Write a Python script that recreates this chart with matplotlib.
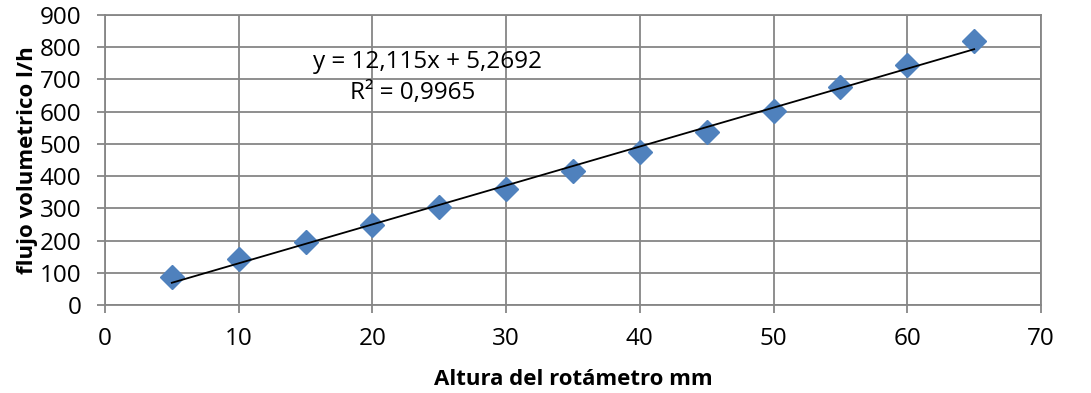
import numpy as np
import matplotlib.pyplot as plt

# Data
altura = [5, 10, 15, 20, 25, 30, 35, 40, 45, 50, 55, 60, 65]
flujo = [86, 142, 195, 248, 303, 360, 416, 474, 538, 602, 677, 745, 820]
xticks = [0, 10, 20, 30, 40, 50, 60, 70]
yticks = [0, 100, 200, 300, 400, 500, 600, 700, 800, 900]

plt.rcParams['font.family'] = ['Open Sans', 'DejaVu Sans']

fig = plt.figure(figsize=(10.91, 3.93), dpi=100)
ax = fig.add_axes([0.0962, 0.224, 0.858, 0.738])

grid_c = '#868686'
ax.plot(altura, flujo, linestyle='none', marker='D', markersize=12,
        color='#4F81BD', zorder=3)

# linear trendline
m, b = np.polyfit(altura, flujo, 1)
xt = np.array([altura[0], altura[-1]])
ax.plot(xt, m * xt + b, color='black', linewidth=1.3, zorder=4)

ax.text(24.1, 755, 'y = 12,115x + 5,2692', ha='center', va='center', fontsize=17.5)
ax.text(23.0, 658, 'R² = 0,9965', ha='center', va='center', fontsize=17.5)

ax.set_xlim(0, 70)
ax.set_ylim(0, 900)
ax.set_xticks(xticks)
ax.set_yticks(yticks)
ax.grid(True, color=grid_c, linewidth=1.3)
ax.set_axisbelow(True)
for s in ax.spines.values():
    s.set_color(grid_c)
    s.set_linewidth(1.3)
ax.tick_params(axis='both', colors=grid_c, length=6, width=1.3,
               labelcolor='black', labelsize=17.5)
ax.tick_params(axis='x', pad=10)
ax.tick_params(axis='y', pad=11)

ax.set_xlabel('Altura del rotámetro mm', fontsize=16, fontweight='bold', labelpad=13)
ax.set_ylabel('flujo volumetrico l/h', fontsize=16, fontweight='bold', labelpad=1)

fig.savefig('out.png', dpi=100)
